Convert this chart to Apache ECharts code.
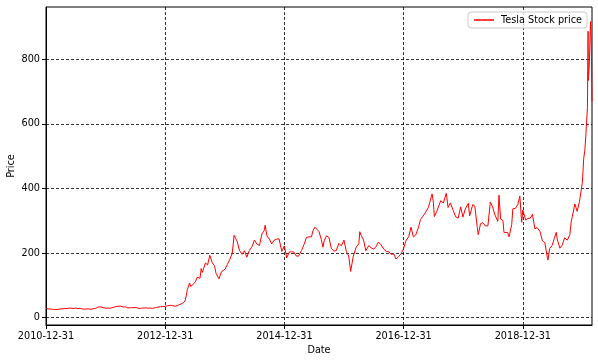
<!DOCTYPE html>
<html><head><meta charset="utf-8">
<script src="https://cdn.jsdelivr.net/npm/echarts@6/dist/echarts.min.js"></script>
<style>html,body{margin:0;padding:0;background:#fff}#c{width:598px;height:362px}</style>
</head><body><div id="c"></div>
<script>
const dates = [
'2011-01-03','2011-01-18','2011-02-01','2011-02-15','2011-03-01','2011-03-15','2011-04-01','2011-04-15','2011-05-02','2011-05-16','2011-06-01','2011-06-15','2011-07-01','2011-07-15','2011-08-01','2011-08-15','2011-09-01','2011-09-15','2011-10-03','2011-10-17','2011-11-01','2011-11-15','2011-12-01','2011-12-15',
'2012-01-03','2012-01-13','2012-01-31','2012-02-15','2012-03-01','2012-03-15','2012-04-02','2012-04-16','2012-05-01','2012-05-15','2012-06-01','2012-06-15','2012-07-02','2012-07-16','2012-08-01','2012-08-15','2012-09-04','2012-09-17','2012-10-01','2012-10-15','2012-11-01','2012-11-15','2012-12-03','2012-12-17',
'2013-01-02','2013-01-15','2013-02-01','2013-02-15','2013-03-01','2013-03-15','2013-04-01','2013-04-15','2013-05-01','2013-05-09','2013-05-15','2013-05-29','2013-06-05','2013-06-17','2013-07-01','2013-07-15','2013-08-01','2013-08-08','2013-08-15','2013-09-03','2013-09-16','2013-09-30','2013-10-15','2013-10-29','2013-11-07','2013-11-15','2013-11-25','2013-12-10','2013-12-20',
'2014-01-02','2014-01-15','2014-01-31','2014-02-14','2014-02-26','2014-03-05','2014-03-17','2014-03-31','2014-04-15','2014-04-30','2014-05-15','2014-05-30','2014-06-16','2014-06-30','2014-07-15','2014-07-31','2014-08-15','2014-08-29','2014-09-04','2014-09-15','2014-09-30','2014-10-14','2014-10-30','2014-11-14','2014-11-28','2014-12-15','2014-12-31',
'2015-01-14','2015-01-30','2015-02-13','2015-02-27','2015-03-13','2015-03-27','2015-04-15','2015-04-30','2015-05-15','2015-05-29','2015-06-15','2015-06-23','2015-07-06','2015-07-17','2015-07-31','2015-08-14','2015-08-24','2015-09-01','2015-09-15','2015-09-30','2015-10-14','2015-10-30','2015-11-13','2015-11-30','2015-12-15','2015-12-31',
'2016-01-15','2016-01-29','2016-02-10','2016-02-26','2016-03-15','2016-03-31','2016-04-06','2016-04-15','2016-04-29','2016-05-13','2016-05-31','2016-06-15','2016-06-30','2016-07-15','2016-07-29','2016-08-15','2016-08-31','2016-09-15','2016-09-30','2016-10-14','2016-10-31','2016-11-14','2016-11-30','2016-12-15','2016-12-30',
'2017-01-13','2017-01-31','2017-02-14','2017-02-28','2017-03-15','2017-03-31','2017-04-13','2017-04-28','2017-05-12','2017-05-31','2017-06-09','2017-06-23','2017-06-30','2017-07-07','2017-07-21','2017-07-31','2017-08-15','2017-08-31','2017-09-18','2017-09-29','2017-10-13','2017-10-31','2017-11-15','2017-11-30','2017-12-15','2017-12-29',
'2018-01-12','2018-01-31','2018-02-08','2018-02-27','2018-03-12','2018-03-27','2018-04-02','2018-04-16','2018-04-30','2018-05-15','2018-05-31','2018-06-15','2018-06-29','2018-07-13','2018-07-31','2018-08-07','2018-08-17','2018-08-31','2018-09-07','2018-09-28','2018-10-08','2018-10-24','2018-10-31','2018-11-15','2018-11-30','2018-12-13','2018-12-24','2018-12-31',
'2019-01-18','2019-01-31','2019-02-15','2019-02-28','2019-03-15','2019-03-29','2019-04-15','2019-04-30','2019-05-15','2019-05-31','2019-06-03','2019-06-14','2019-06-28','2019-07-12','2019-07-24','2019-07-31','2019-08-15','2019-08-30','2019-09-13','2019-09-30','2019-10-15','2019-10-23','2019-10-24','2019-10-31','2019-11-15','2019-11-29','2019-12-13','2019-12-31',
'2020-01-08','2020-01-15','2020-01-22','2020-01-31','2020-02-04','2020-02-05','2020-02-11','2020-02-19','2020-02-24','2020-02-28'
];
const prices = [
28.0,26.5,26.0,25.5,25.0,25.5,27.0,27.5,28.0,28.5,29.5,28.0,29.5,28.0,28.5,26.0,26.5,27.0,25.5,27.5,29.0,32.5,33.0,31.0,
29.0,27.0,29.5,31.5,33.8,35.0,35.5,32.5,33.5,30.0,30.5,31.0,31.5,29.0,28.5,29.5,30.0,29.0,29.5,28.5,31.0,32.0,34.0,33.7,
35.4,36.5,38.0,37.0,35.0,37.5,41.0,44.0,51.0,69.0,87.0,107.0,96.0,102.0,109.0,125.0,122.0,152.0,140.0,169.0,163.0,193.0,170.0,160.0,137.0,135.0,120.0,142.0,139.0,
150.0,164.0,181.0,198.0,255.0,252.0,235.0,208.0,196.0,207.0,187.0,208.0,220.0,240.0,228.0,223.0,259.0,269.0,286.0,253.0,243.0,228.0,240.0,243.0,244.0,205.0,222.0,
185.0,203.0,204.0,203.0,191.0,190.0,208.0,226.0,248.0,250.0,250.0,268.0,280.0,274.0,266.0,242.0,218.0,238.0,253.0,248.0,215.0,206.0,207.0,230.0,222.0,240.0,
204.0,191.0,143.0,190.0,218.0,229.0,266.0,254.0,240.0,207.0,223.0,216.0,212.0,220.0,234.0,225.0,212.0,205.0,204.0,196.0,197.0,181.0,189.0,198.0,213.0,
237.0,251.0,280.0,250.0,256.0,278.0,304.0,314.0,324.0,341.0,357.0,383.0,361.0,313.0,328.0,324.0,362.0,355.0,385.0,341.0,355.0,331.0,312.0,308.0,343.0,311.0,
336.0,354.0,315.0,350.0,345.0,279.0,257.0,291.0,294.0,284.0,284.0,358.0,343.0,318.0,298.0,379.0,305.0,301.0,263.0,264.0,250.0,288.0,337.0,338.0,350.0,376.0,295.0,333.0,
302.0,307.0,308.0,320.0,275.0,279.0,267.0,238.0,232.0,185.0,178.0,214.0,223.0,245.0,264.0,241.0,215.0,225.0,247.0,240.0,257.0,254.0,299.0,314.0,352.0,329.0,359.0,418.0,
492.0,518.0,570.0,650.0,887.0,734.0,775.0,917.0,833.0,668.0
];
const xTickLabels = ['2010-12-31','2012-12-31','2014-12-31','2016-12-31','2018-12-31'];
const xTickYears = [0,2,4,6,8];
const yTicks = [0,200,400,600,800];

const origin = Date.UTC(2010, 11, 31);
const toYears = s => (Date.parse(s) - origin) / (365.25 * 86400000);
const seriesData = dates.map((d, i) => [toYears(d), prices[i]]);
const xMax = toYears(dates[dates.length - 1]);

const FONT = 'DejaVu Sans';
const chart = echarts.init(document.getElementById('c'), null, {renderer: 'canvas'});
chart.setOption({
  animation: false,
  backgroundColor: '#fff',
  grid: {left: 46, right: 6, top: 7, bottom: 37, containLabel: false, outerBoundsMode: 'none',
    show: true, borderColor: '#000', borderWidth: 1, backgroundColor: 'transparent'},
  legend: {
    right: 11, top: 12, orient: 'horizontal',
    data: [{name: 'Tesla Stock price', icon: 'rect'}],
    itemWidth: 20, itemHeight: 1.5,
    padding: [3, 5, 3, 6], itemGap: 8,
    backgroundColor: 'rgba(255,255,255,0.8)', borderColor: '#ccc', borderWidth: 1, borderRadius: 3,
    textStyle: {fontFamily: FONT, fontSize: 9.7, color: '#000', padding: [0, 0, 0, 2]}
  },
  xAxis: {
    type: 'value', min: 0, max: xMax, interval: 2,
    name: 'Date', nameLocation: 'middle', nameGap: 19,
    nameTextStyle: {fontFamily: FONT, fontSize: 9.7, color: '#000'},
    axisLine: {show: true, onZero: false, lineStyle: {color: '#000', width: 1}},
    axisTick: {show: true, length: 4, lineStyle: {color: '#000'}, customValues: xTickYears},
    axisLabel: {fontFamily: FONT, fontSize: 9.7, color: '#000', margin: 6, customValues: xTickYears,
      formatter: v => xTickLabels[xTickYears.indexOf(Math.round(v))] || ''},
    splitLine: {show: true, lineStyle: {color: '#000', width: 0.8, type: [3, 2]}}
  },
  yAxis: {
    type: 'value', min: -23, max: 962,
    name: 'Price', nameLocation: 'middle', nameGap: 30, nameRotate: 90, nameMoveOverlap: false,
    nameTextStyle: {fontFamily: FONT, fontSize: 9.7, color: '#000'},
    axisLine: {show: true, onZero: false, lineStyle: {color: '#000', width: 1}},
    axisTick: {show: true, length: 4, lineStyle: {color: '#000'}, customValues: yTicks},
    axisLabel: {fontFamily: FONT, fontSize: 9.7, color: '#000', margin: 6, customValues: yTicks},
    splitLine: {show: true, lineStyle: {color: '#000', width: 0.8, type: [3, 2]}}
  },
  series: [{
    name: 'Tesla Stock price', type: 'line', data: seriesData,
    showSymbol: false, symbol: 'none',
    lineStyle: {color: '#ff0000', width: 1},
    itemStyle: {color: '#ff0000'}
  }]
});
</script></body></html>
